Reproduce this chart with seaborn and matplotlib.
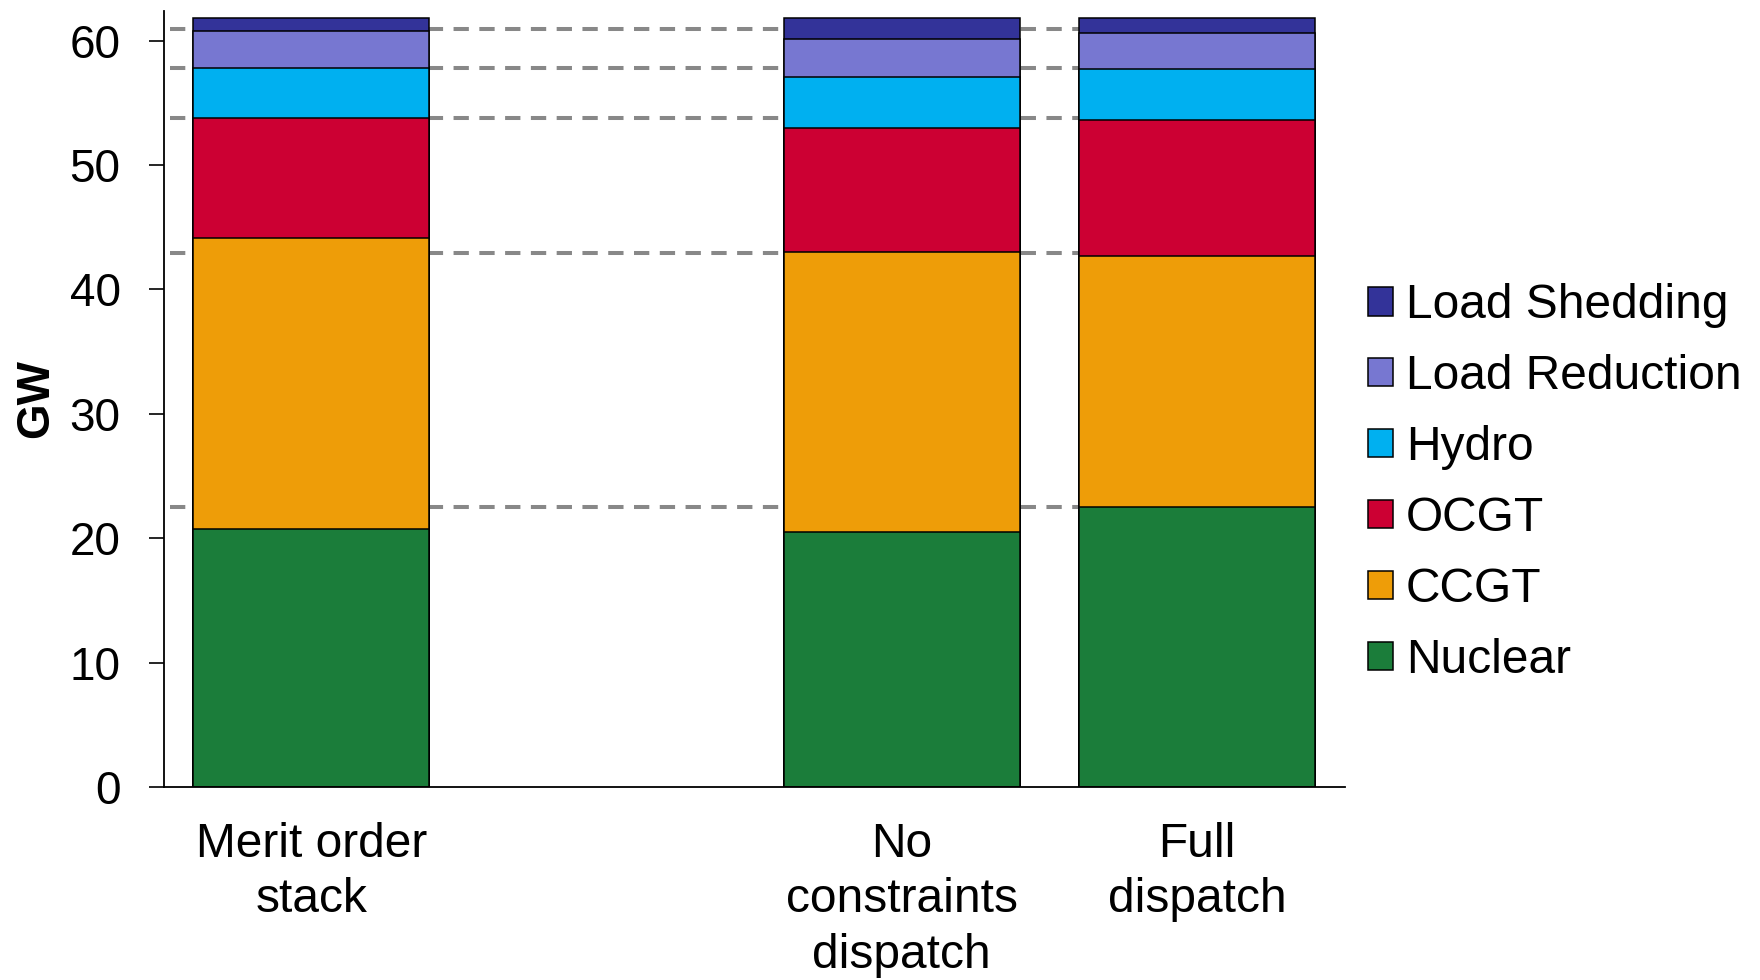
import pandas as pd
import numpy as np
import seaborn as sns
import matplotlib.pyplot as plt

# scenarios (the empty slot keeps the gap between the first and second bar)
scenarios = ['Merit order\nstack', '', 'No\nconstraints\ndispatch', 'Full\ndispatch']
techs = ['Nuclear', 'CCGT', 'OCGT', 'Hydro', 'Load Reduction', 'Load Shedding']
colors = ['#1B7D3A', '#EE9D08', '#CC0033', '#00B0F0', '#7777D1', '#333399']

# GW per technology
merit = [20.7, 23.4, 9.7, 4.0, 3.0, 1.0]
no_constraints = [20.5, 22.5, 10.0, 4.1, 3.0, 1.7]
full_dispatch = [22.5, 20.2, 10.9, 4.1, 2.9, 1.2]

# reference levels (dashed lines)
ref_levels = [22.5, 42.9, 53.8, 57.8, 60.9]

rows = []
for scen, vals in zip([scenarios[0], scenarios[2], scenarios[3]],
                      [merit, no_constraints, full_dispatch]):
    for tech, v in zip(techs, vals):
        rows.append({'scenario': scen, 'tech': tech, 'GW': v})
df = pd.DataFrame(rows)
df['cum'] = df.groupby('scenario')['GW'].cumsum()

sns.set_style('white')
plt.rcParams['font.family'] = ['Liberation Sans', 'DejaVu Sans']
plt.rcParams['text.color'] = 'black'
plt.rcParams['axes.labelcolor'] = 'black'
plt.rcParams['xtick.color'] = 'black'
plt.rcParams['ytick.color'] = 'black'
fs = 33
fs_big = 34.5

fig = plt.figure(figsize=(17.6, 9.8), dpi=100)
ax = fig.add_axes([0.093, 0.197, 0.671, 0.792])

# dashed reference lines behind the bars
ax.hlines(ref_levels, -0.48, 3.4, colors='#888888', linewidth=2.9,
          linestyles=(0, (3.8, 2.6)), zorder=0)

# stacked bars: draw cumulative totals from the top layer down
for tech, col in zip(techs[::-1], colors[::-1]):
    sub = df[df['tech'] == tech]
    sns.barplot(data=sub, x='scenario', y='cum', order=scenarios,
                color=col, saturation=1, width=0.8, edgecolor='black',
                linewidth=1.1, label=tech, ax=ax, zorder=2)

ax.set_xlim(-0.5, 3.5)
ax.set_ylim(0, 62.4)
ax.set_yticks(np.arange(0, 61, 10))
ax.set_xticks(range(4))
ax.set_xticklabels(scenarios, fontsize=fs_big, linespacing=1.3)
ax.set_xticks([-0.5, 0.5, 1.5, 2.5, 3.5], minor=True)
ax.tick_params(axis='x', which='major', length=0, pad=25)
ax.tick_params(axis='x', which='minor', length=11, width=1.2, direction='out')
ax.tick_params(axis='y', labelsize=fs, length=11, width=1.2, direction='out', left=True, pad=20)
ax.set_xlabel('')
ax.set_ylabel('GW', fontsize=fs, fontweight='bold', labelpad=8)

sns.despine(ax=ax)
for s in ['left', 'bottom']:
    ax.spines[s].set_color('black')
    ax.spines[s].set_linewidth(1.3)

ax.legend(loc='center left', bbox_to_anchor=(0.777, 0.507),
          bbox_transform=fig.transFigure, frameon=False, fontsize=fs_big,
          handlelength=0.53, handleheight=0.53, handletextpad=0.27,
          labelspacing=0.54, borderpad=0, borderaxespad=0)

fig.savefig('out.png', dpi=100)
